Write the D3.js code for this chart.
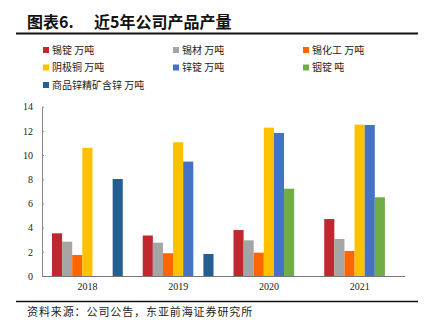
<!DOCTYPE html>
<html><head><meta charset="utf-8">
<script src="https://cdn.jsdelivr.net/npm/d3@7"></script>
<style>body{margin:0;background:#fff}svg{display:block}</style>
</head><body><svg id="c" width="424" height="329"></svg>
<script>
const years = ["2018","2019","2020","2021"];
const seriesNames = ["锡锭 万吨","锡材 万吨","锡化工 万吨","阴极铜 万吨","锌锭 万吨","铟锭 吨","商品锌精矿含锌 万吨"];
const seriesColors = ["#c0282f","#a5a5a5","#ff6600","#ffc000","#4472c4","#70ad47","#255e91"];
const tinIngot   = [3.53, 3.35, 3.80, 4.71];
const tinMaterial= [2.84, 2.76, 2.95, 3.06];
const tinChem    = [1.74, 1.88, 1.93, 2.07];
const copper     = [10.60, 11.06, 12.27, 12.52];
const zincIngot  = [null, 9.46, 11.83, 12.49];
const indium     = [null, null, 7.22, 6.51];
const zincConc   = [8.02, 1.82, null, null];
const yTicks = [0,2,4,6,8,10,12,14];
const seriesValues = [tinIngot, tinMaterial, tinChem, copper, zincIngot, indium, zincConc];

const svg = d3.select("#c");
const m = {l:42, r:405, t:106.7, b:276};
const x0 = d3.scaleBand().domain(years).range([m.l, m.r]).paddingInner(0.22).paddingOuter(0.11);
const x1 = d3.scaleBand().domain(d3.range(7)).range([0, x0.bandwidth()]);
const y = d3.scaleLinear().domain([0,14]).range([m.b, m.t]);

// title
svg.append("text").attr("x",27).attr("y",28).attr("font-family","Noto Sans CJK SC").attr("font-weight","bold").attr("font-size",16).attr("fill","#111")
  .text("图表6.");
svg.append("text").attr("x",94).attr("y",28).attr("font-family","Noto Sans CJK SC").attr("font-weight","bold").attr("font-size",16).attr("fill","#111")
  .text("近5年公司产品产量");
svg.append("line").attr("x1",16).attr("x2",418).attr("y1",33.5).attr("y2",33.5).attr("stroke","#111").attr("stroke-width",2);

// legend
const legPos = [[43,50],[173,50],[303,50],[43,67.5],[173,67.5],[303,67.5],[43,85]];
seriesNames.forEach((n,i)=>{
  const [lx,ly]=legPos[i];
  svg.append("rect").attr("x",lx).attr("y",ly-3).attr("width",6).attr("height",6).attr("fill",seriesColors[i]);
  svg.append("text").attr("x",lx+9).attr("y",ly+3.5).attr("font-family","Noto Sans CJK SC").attr("font-size",10).attr("fill","#222").text(n);
});

// y axis
const ya = svg.append("g").attr("transform",`translate(${m.l},0)`)
  .call(d3.axisLeft(y).tickValues(yTicks).tickSizeInner(-2).tickSizeOuter(0).tickPadding(9));
ya.select(".domain").attr("stroke","#888");
ya.selectAll(".tick line").attr("stroke","#888");
ya.selectAll("text").attr("font-family","Liberation Serif").attr("font-size",10).attr("fill","#222");

// bars
const g = svg.append("g");
years.forEach((yr,ci)=>{
  seriesValues.forEach((arr,si)=>{
    const v = arr[ci];
    if(v==null) return;
    g.append("rect").attr("x",x0(yr)+x1(si)).attr("width",x1.bandwidth())
      .attr("y",y(v)).attr("height",y(0)-y(v)).attr("fill",seriesColors[si]);
  });
});

// x axis
const xa = svg.append("g").attr("transform",`translate(0,${m.b})`).call(d3.axisBottom(x0).tickSize(0).tickPadding(7));
xa.select(".domain").attr("stroke","#777").attr("d",`M${m.l},0.5H${m.r}`);
xa.selectAll("text").attr("font-family","Liberation Serif").attr("font-size",10).attr("fill","#222");

// footer
svg.append("line").attr("x1",16).attr("x2",418).attr("y1",301.5).attr("y2",301.5).attr("stroke","#111").attr("stroke-width",1.5);
svg.append("text").attr("x",27).attr("y",316).attr("font-family","Noto Sans CJK SC").attr("font-size",11).attr("letter-spacing",0.9).attr("fill","#222")
  .text("资料来源：公司公告，东亚前海证券研究所");
</script></body></html>
